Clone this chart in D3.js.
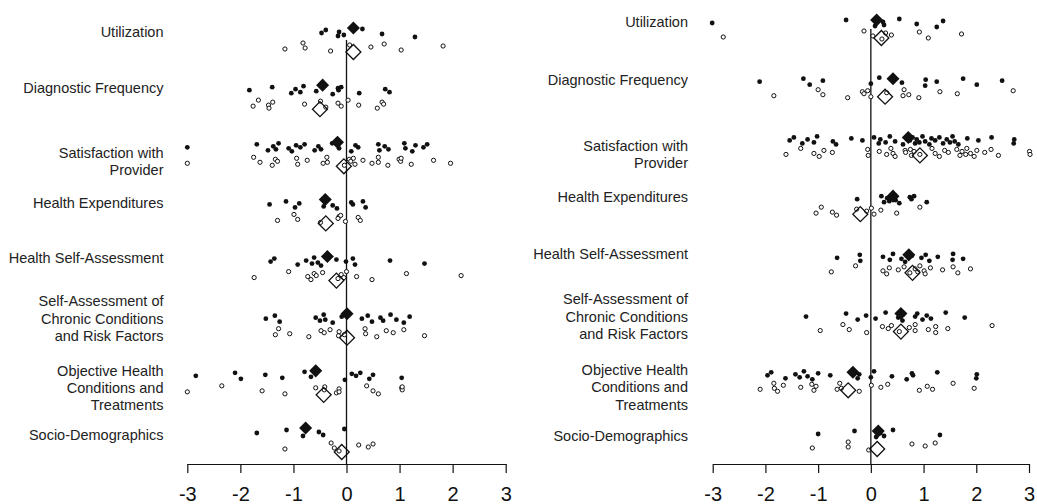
<!DOCTYPE html>
<html><head><meta charset="utf-8">
<script src="https://cdn.jsdelivr.net/npm/d3@7"></script>
<style>
html,body{margin:0;padding:0;background:#fff;}
svg{display:block;font-family:"Liberation Sans",Arial,Helvetica,sans-serif;}
</style></head><body>
<svg id="chart" width="1037" height="504"></svg>
<script>
// ---------------- DATA ----------------
const categories = [
  "Utilization",
  "Diagnostic Frequency",
  "Satisfaction with\nProvider",
  "Health Expenditures",
  "Health Self-Assessment",
  "Self-Assessment of\nChronic Conditions\nand Risk Factors",
  "Objective Health\nConditions and\nTreatments",
  "Socio-Demographics"
];
const tickValues = [-3, -2, -1, 0, 1, 2, 3];
const tickLabels = ["-3", "-2", "-1", "0", "1", "2", "3"];

const leftFilled = [
  [-0.47,-0.39,-0.16,-0.14,-0.05,0.30,0.67,1.29],
  [-1.83,-1.40,-1.04,-0.96,-0.87,-0.81,-0.57,-0.26,-0.16,-0.15,-0.10,0.24,0.73,0.81],
  [-3.0,-1.69,-1.48,-1.38,-1.33,-1.28,-1.09,-1.03,-0.95,-0.87,-0.79,-0.60,-0.53,-0.48,-0.27,-0.14,0.09,0.17,0.22,0.60,0.62,0.72,0.79,1.09,1.11,1.24,1.30,1.45,1.52],
  [-1.45,-1.14,-0.97,-0.89,-0.43,-0.40,-0.26,-0.18,0.09,0.12,0.31,0.36],
  [-1.43,-1.36,-0.92,-0.76,-0.65,-0.61,-0.54,-0.48,-0.19,-0.01,0.12,0.16,0.82,1.47],
  [-1.52,-1.35,-1.26,-0.58,-0.50,-0.43,-0.40,-0.26,-0.09,0.29,0.40,0.48,0.64,0.69,0.83,0.94,1.08,1.19],
  [-2.84,-2.10,-1.99,-1.53,-1.21,-0.79,-0.67,-0.03,0.10,0.18,0.26,0.43,0.50,1.04],
  [-1.69,-1.13,-0.82,-0.52,-0.44,-0.04]
];
const leftOpen = [
  [-1.16,-0.82,-0.78,-0.30,0.06,0.46,0.71,1.03,1.82],
  [-1.76,-1.66,-1.47,-1.46,-1.39,-0.79,-0.49,-0.39,-0.16,-0.10,0.03,0.23,0.58,0.67,0.70],
  [-3.0,-1.75,-1.63,-1.40,-1.34,-1.30,-0.94,-0.92,-0.74,-0.44,-0.37,-0.36,-0.04,0.05,0.08,0.13,0.16,0.31,0.48,0.60,0.60,0.78,0.99,1.02,1.03,1.22,1.64,1.96],
  [-1.30,-0.99,-0.92,-0.49,-0.14,-0.16,-0.11,-0.02,0.22,0.26],
  [-1.74,-1.09,-0.73,-0.67,-0.61,-0.57,-0.45,-0.16,-0.10,-0.05,0.0,0.19,0.48,1.13,2.16],
  [-1.34,-1.28,-1.07,-0.71,-0.48,-0.42,-0.31,-0.15,-0.14,-0.04,0.35,0.36,0.57,0.75,0.88,1.08,1.47],
  [-3.0,-2.35,-1.59,-1.16,-0.58,-0.42,-0.41,-0.19,-0.14,-0.14,0.38,0.50,0.60,1.04,1.05,1.05],
  [-1.16,-0.29,-0.23,-0.14,0.23,0.41,0.50]
];
const leftFilledMean = [0.13,-0.45,-0.17,-0.40,-0.36,0.01,-0.58,-0.77];
const leftOpenMean   = [0.13,-0.50,-0.05,-0.39,-0.19,0.01,-0.43,-0.09];

const rightFilled = [
  [-3.01,-0.47,0.08,0.23,0.25,0.54,0.87,1.25,1.37],
  [-2.11,-1.28,-1.16,-0.91,0.0,0.16,0.59,1.03,1.04,1.25,1.75,2.01,2.49],
  [-1.54,-1.46,-1.30,-1.20,-1.08,-1.02,-0.72,-0.66,-0.37,-0.16,0.06,0.15,0.18,0.28,0.36,0.46,0.61,0.68,0.74,0.79,0.84,0.87,0.92,0.98,1.03,1.11,1.15,1.22,1.30,1.37,1.44,1.50,1.55,1.59,1.66,1.83,2.04,2.29,2.71,2.72],
  [-0.26,0.20,0.25,0.31,0.35,0.45,0.47,0.54,0.74,0.77,0.82,1.06],
  [-0.64,-0.21,-0.20,0.23,0.36,0.42,0.58,0.65,0.78,0.96,1.04,1.11,1.27,1.55,1.56,1.75],
  [-1.23,-0.47,-0.25,-0.09,0.09,0.28,0.52,0.60,0.61,0.84,0.88,0.98,1.06,1.14,1.42,1.78],
  [-1.96,-1.89,-1.62,-1.43,-1.35,-1.27,-1.20,-1.11,-1.00,-0.77,-0.30,-0.25,-0.22,0.00,0.06,0.40,0.68,0.78,0.80,1.26,2.00,2.01],
  [-1.00,-0.31,0.10,0.18,0.25,0.42,1.31]
];
const rightOpen = [
  [-2.80,-0.13,0.04,0.21,0.28,0.39,0.92,1.09,1.72],
  [-1.84,-1.00,-0.91,-0.44,-0.16,-0.13,-0.06,0.0,0.30,0.61,0.63,0.72,0.91,1.31,1.64,2.70],
  [-1.61,-1.33,-1.08,-0.98,-0.89,-0.73,-0.06,-0.05,0.16,0.30,0.38,0.42,0.46,0.65,0.66,0.75,0.77,0.82,0.93,1.16,1.22,1.30,1.40,1.47,1.63,1.69,1.73,1.80,1.82,1.89,1.96,2.01,2.16,2.28,2.42,3.01,3.02],
  [-1.04,-0.94,-0.73,-0.65,-0.27,-0.08,0.01,0.06,0.19,0.49,0.93],
  [-0.75,-0.29,0.23,0.30,0.35,0.52,0.63,0.74,0.84,0.89,0.93,1.01,1.03,1.13,1.36,1.56,1.65,1.89],
  [-0.96,-0.53,-0.41,-0.08,0.22,0.33,0.39,0.54,0.73,0.84,0.84,1.09,1.23,1.23,1.46,2.30],
  [-2.10,-1.84,-1.83,-1.77,-1.66,-1.33,-1.12,-1.08,-1.04,-0.64,-0.59,-0.56,-0.22,0.01,0.19,0.32,0.92,1.07,1.17,1.56,1.96],
  [-1.11,-0.43,-0.43,-0.04,0.78,1.03,1.22]
];
const rightFilledMean = [0.11,0.42,0.71,0.42,0.72,0.57,-0.34,0.14];
const rightOpenMean   = [0.20,0.27,0.93,-0.20,0.79,0.57,-0.43,0.12];

// ---------------- LAYOUT ----------------
const svg = d3.select("#chart");
const axisY = 464;
const jitterPattern = [0,-3,3,-1,2,-4,1,4,-2];
const labelNudge = [-1,-2,14,-2,-4,0,12,2];
const lineH = 17.3;
const ink = "#111";

const panels = [
  {filled:leftFilled, open:leftOpen, fMean:leftFilledMean, oMean:leftOpenMean,
   xr:[187.3,505.7], yr:[33,433], openOff:14, diaOff:5, labelX:163.5},
  {filled:rightFilled, open:rightOpen, fMean:rightFilledMean, oMean:rightOpenMean,
   xr:[712.7,1029], yr:[23,434], openOff:12, diaOff:3, labelX:688}
];

const diamondPath = (area) => {
  const p = d3.symbol(d3.symbolSquare, area)();
  return p;
};

panels.forEach(P => {
  const x = d3.scaleLinear().domain([-3,3]).range(P.xr);
  const y = d3.scalePoint().domain(categories).range(P.yr).padding(0);
  const g = svg.append("g");

  // category labels
  categories.forEach((c, ci) => {
    const lines = c.split("\n");
    const cy = y(c) + labelNudge[ci];
    const t = g.append("text")
      .attr("text-anchor","end")
      .attr("font-size","14.5px")
      .attr("fill","#222");
    lines.forEach((ln, k) => {
      t.append("tspan")
        .attr("x", P.labelX)
        .attr("y", cy + (k - (lines.length-1)/2)*lineH)
        .attr("dy","0.35em")
        .text(ln);
    });
  });

  // zero line
  g.append("line")
    .attr("x1", x(0)).attr("x2", x(0))
    .attr("y1", y(categories[0]) + P.openOff/2)
    .attr("y2", axisY)
    .attr("stroke", ink).attr("stroke-width", 1.3);

  categories.forEach((c, ci) => {
    const yf = y(c), yo = y(c) + P.openOff;
    // filled points
    g.selectAll(null).data(P.filled[ci]).enter().append("circle")
      .attr("cx", d => x(d))
      .attr("cy", (d,i) => yf + jitterPattern[i % 9])
      .attr("r", 2.4)
      .attr("fill", ink);
    // open points
    g.selectAll(null).data(P.open[ci]).enter().append("circle")
      .attr("cx", d => x(d))
      .attr("cy", (d,i) => yo + jitterPattern[(i+4) % 9])
      .attr("r", 2.1)
      .attr("fill", "#fff")
      .attr("stroke", ink)
      .attr("stroke-width", 1);
    // filled mean diamond
    g.append("path")
      .attr("d", diamondPath(85))
      .attr("transform", `translate(${x(P.fMean[ci])},${yf - P.diaOff}) rotate(45)`)
      .attr("fill", ink);
    // open mean diamond
    g.append("path")
      .attr("d", diamondPath(112))
      .attr("transform", `translate(${x(P.oMean[ci])},${yo + P.diaOff}) rotate(45)`)
      .attr("fill", "none")
      .attr("stroke", ink)
      .attr("stroke-width", 1.3);
  });

  // axis
  const ax = g.append("g")
    .attr("transform", `translate(0,${axisY})`)
    .call(d3.axisBottom(x).tickValues(tickValues)
      .tickFormat((d,i) => tickLabels[i])
      .tickSize(9).tickSizeOuter(0).tickPadding(14));
  ax.select(".domain").attr("stroke", ink).attr("stroke-width", 1.2);
  ax.selectAll(".tick line").attr("stroke", ink).attr("stroke-width", 1.2);
  ax.selectAll(".tick text")
    .attr("font-size","20px")
    .attr("font-family",'"Liberation Sans",Arial,sans-serif')
    .attr("fill", ink);
});
</script>
</body></html>
